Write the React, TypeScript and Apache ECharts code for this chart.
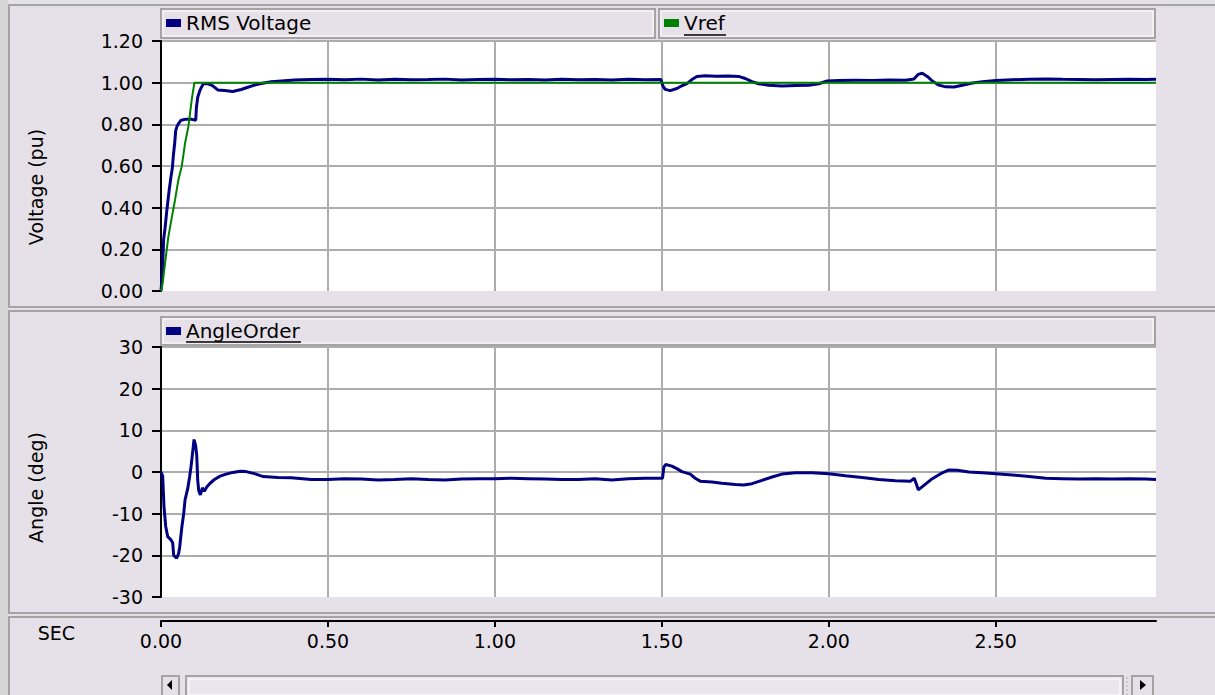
import React, { useEffect, useRef } from "react";
import * as echarts from "echarts";

// ---- data ----
const timeMin = 0;
const timeMax = 2.98;
const timeInterval = 0.5;
const voltageRange = [0, 1.2];
const voltageInterval = 0.2;
const angleRange = [-30, 30];
const angleInterval = 10;

const rmsVoltage: [number, number][] = [
  [0, 0.0], [0.004, 0.08], [0.008, 0.25], [0.012, 0.3], [0.017, 0.38], [0.022, 0.45],
  [0.025, 0.49], [0.03, 0.55], [0.034, 0.59], [0.037, 0.65], [0.041, 0.71], [0.044, 0.77],
  [0.048, 0.79], [0.053, 0.805], [0.06, 0.82], [0.075, 0.825], [0.09, 0.825], [0.104, 0.82],
  [0.106, 0.88], [0.11, 0.93], [0.116, 0.96], [0.12, 0.975], [0.127, 0.995], [0.14, 0.995],
  [0.155, 0.985], [0.17, 0.965], [0.19, 0.962], [0.215, 0.958], [0.24, 0.967], [0.26, 0.978],
  [0.28, 0.988], [0.3, 0.996], [0.33, 1.004], [0.36, 1.008], [0.4, 1.013], [0.45, 1.015],
  [0.5, 1.016], [0.55, 1.014], [0.6, 1.017], [0.65, 1.013], [0.7, 1.016], [0.75, 1.014],
  [0.8, 1.015], [0.85, 1.017], [0.9, 1.013], [0.95, 1.015], [1.0, 1.016], [1.05, 1.014],
  [1.1, 1.015], [1.15, 1.013], [1.2, 1.016], [1.25, 1.014], [1.3, 1.015], [1.35, 1.013],
  [1.4, 1.016], [1.45, 1.014], [1.497, 1.015], [1.503, 0.985], [1.51, 0.968], [1.525, 0.962],
  [1.545, 0.972], [1.56, 0.985], [1.575, 0.995], [1.59, 1.015], [1.605, 1.03], [1.63, 1.033],
  [1.66, 1.031], [1.7, 1.032], [1.73, 1.03], [1.75, 1.02], [1.77, 1.005], [1.79, 0.995],
  [1.82, 0.988], [1.86, 0.984], [1.9, 0.986], [1.94, 0.988], [1.97, 0.995], [1.995, 1.008],
  [2.03, 1.01], [2.08, 1.012], [2.13, 1.011], [2.18, 1.013], [2.23, 1.012], [2.255, 1.018],
  [2.268, 1.04], [2.28, 1.045], [2.295, 1.03], [2.31, 1.008], [2.33, 0.988], [2.35, 0.98],
  [2.375, 0.979], [2.4, 0.988], [2.43, 0.998], [2.46, 1.004], [2.5, 1.01], [2.55, 1.014],
  [2.6, 1.016], [2.65, 1.018], [2.7, 1.016], [2.75, 1.015], [2.8, 1.014], [2.85, 1.015],
  [2.9, 1.016], [2.95, 1.015], [2.98, 1.016],
];

const vref: [number, number][] = [
  [0, 0.0], [0.005, 0.037], [0.012, 0.133], [0.022, 0.26], [0.032, 0.35], [0.042, 0.437],
  [0.052, 0.533], [0.062, 0.597], [0.072, 0.709], [0.082, 0.789], [0.092, 0.917],
  [0.1, 1.0], [2.98, 1.0],
];

const angleOrder: [number, number][] = [
  [0, 0], [0.005, -1], [0.009, -8.3], [0.014, -13], [0.02, -15.5], [0.03, -16.3], [0.035, -17],
  [0.038, -20], [0.047, -20.7], [0.053, -19.5], [0.056, -18], [0.062, -13.5], [0.068, -10],
  [0.072, -6.7], [0.08, -4], [0.086, -1], [0.09, 1.3], [0.095, 4.9], [0.099, 7.8], [0.104, 6.2],
  [0.107, 4], [0.11, -2], [0.113, -4.5], [0.118, -5.5], [0.124, -3.8], [0.13, -4.6],
  [0.137, -3.6], [0.147, -2.7], [0.16, -1.8], [0.177, -1.0], [0.195, -0.5], [0.215, -0.1],
  [0.237, 0.2], [0.255, 0.1], [0.28, -0.4], [0.306, -1.1], [0.35, -1.3], [0.39, -1.4],
  [0.45, -1.8], [0.5, -1.8], [0.55, -1.6], [0.6, -1.7], [0.65, -1.9], [0.7, -1.8], [0.75, -1.6],
  [0.8, -1.8], [0.85, -1.9], [0.9, -1.7], [0.95, -1.6], [1.0, -1.6], [1.05, -1.5], [1.1, -1.6],
  [1.15, -1.7], [1.2, -1.8], [1.25, -1.8], [1.3, -1.6], [1.35, -1.9], [1.4, -1.6], [1.45, -1.5],
  [1.502, -1.5], [1.506, 1.2], [1.512, 1.8], [1.53, 1.4], [1.545, 0.8], [1.56, 0.1],
  [1.585, -0.5], [1.6, -1.5], [1.615, -2.2], [1.65, -2.4], [1.68, -2.7], [1.72, -3.0],
  [1.745, -3.1], [1.77, -2.8], [1.8, -2.0], [1.83, -1.2], [1.86, -0.5], [1.9, -0.2],
  [1.95, -0.2], [2.0, -0.4], [2.05, -0.9], [2.1, -1.3], [2.15, -1.8], [2.2, -2.1],
  [2.245, -2.2], [2.256, -1.5], [2.262, -2.8], [2.268, -4.3], [2.285, -3.2], [2.31, -1.6],
  [2.335, -0.4], [2.36, 0.5], [2.385, 0.4], [2.42, 0.0], [2.46, -0.2], [2.5, -0.4],
  [2.55, -0.7], [2.6, -1.1], [2.65, -1.5], [2.7, -1.6], [2.75, -1.7], [2.8, -1.6],
  [2.85, -1.7], [2.9, -1.6], [2.95, -1.7], [2.98, -1.8],
];

// ---- styles ----
const FONT = "'DejaVu Sans', sans-serif";
const BG = "#E6E0E8";
const FRAME = "#A4A4A4";
const GRIDC = "#ADADAD";
const NAVY = "#000080";
const GREEN = "#008000";
const NONE = "rgba(0,0,0,0)";

const xSplitColors = [NONE, GRIDC, GRIDC, GRIDC, GRIDC, GRIDC, NONE];
const ySplitColors = [NONE, GRIDC, GRIDC, GRIDC, GRIDC, GRIDC, GRIDC];

function plotX(gridIndex: number) {
  return {
    gridIndex,
    type: "value",
    min: timeMin,
    max: timeMax,
    interval: timeInterval,
    axisLine: { show: false },
    axisTick: { show: false },
    axisLabel: { show: false },
    splitLine: { show: true, lineStyle: { color: xSplitColors, width: 2 } },
  };
}

function plotY(gridIndex: number, range: number[], interval: number, name: string, fmt: (v: number) => string, shift: number) {
  return {
    gridIndex,
    type: "value",
    min: range[0],
    max: range[1],
    interval,
    name,
    nameLocation: "middle",
    nameGap: 116,
    nameRotate: 90,
    nameTextStyle: { fontFamily: FONT, fontSize: 19, color: "#000", padding: [0, shift, 0, 0] },
    axisLine: { show: true, onZero: false, lineStyle: { color: "#000", width: 2 } },
    axisTick: { show: true, length: 9, lineStyle: { color: "#000", width: 2 } },
    axisLabel: { show: true, margin: 18, fontFamily: FONT, fontSize: 19, color: "#000", formatter: fmt },
    splitLine: { show: true, lineStyle: { color: ySplitColors, width: 2 } },
  };
}

function legendAt(name: string, left: number, top: number) {
  return {
    data: [name],
    left,
    top,
    padding: 0,
    orient: "horizontal",
    icon: "rect",
    itemWidth: 15,
    itemHeight: 8,
    selectedMode: false,
    textStyle: { fontFamily: FONT, fontSize: 20, color: "#000", lineHeight: 20 },
  };
}

function box(x: number, y: number, w: number, h: number) {
  return [
    { type: "rect", z: -5, shape: { x, y, width: w, height: h }, style: { fill: BG, stroke: FRAME, lineWidth: 2 } },
    { type: "rect", z: -4, shape: { x: x + 2, y: y + 2, width: w - 4, height: h - 4 }, style: { fill: NONE, stroke: "#FFFFFF", lineWidth: 1 } },
  ];
}

const graphics: any[] = [
  // outer left strip and panels
  { type: "rect", z: -20, shape: { x: 0, y: 0, width: 8, height: 695 }, style: { fill: "#D6D6D6" } },
  { type: "rect", z: -20, shape: { x: 8, y: 0, width: 1207, height: 5 }, style: { fill: "#E4E2E6" } },
  { type: "rect", z: -15, shape: { x: 9, y: 5, width: 1215, height: 302 }, style: { fill: BG, stroke: FRAME, lineWidth: 2 } },
  { type: "rect", z: -15, shape: { x: 9, y: 311, width: 1215, height: 302 }, style: { fill: BG, stroke: FRAME, lineWidth: 2 } },
  { type: "rect", z: -15, shape: { x: 9, y: 617, width: 1215, height: 90 }, style: { fill: BG, stroke: FRAME, lineWidth: 2 } },
  // legend boxes
  ...box(161, 9, 494, 29),
  ...box(659, 9, 496, 29),
  ...box(161, 317, 994, 28),
  // underlines of linked legend names
  { type: "line", z: 10, shape: { x1: 684, y1: 35, x2: 726, y2: 35 }, style: { stroke: "#000", lineWidth: 1.5 } },
  { type: "line", z: 10, shape: { x1: 186, y1: 342, x2: 301, y2: 342 }, style: { stroke: "#000", lineWidth: 1.5 } },
  // scrollbar
  { type: "rect", shape: { x: 162, y: 676, width: 17, height: 20 }, style: { fill: BG, stroke: FRAME, lineWidth: 2 } },
  { type: "polygon", shape: { points: [[167, 685], [172, 680], [172, 690]] }, style: { fill: "#000" } },
  { type: "rect", shape: { x: 186, y: 676, width: 937, height: 20 }, style: { fill: "#E9E5EC", stroke: FRAME, lineWidth: 2 } },
  { type: "rect", shape: { x: 189, y: 679, width: 931, height: 16 }, style: { fill: NONE, stroke: "#FFFFFF", lineWidth: 1 } },
  { type: "line", shape: { x1: 1127, y1: 677, x2: 1127, y2: 695 }, style: { stroke: "#B0B0B0", lineWidth: 1, lineDash: [2, 2] } },
  { type: "rect", shape: { x: 1132, y: 676, width: 21, height: 20 }, style: { fill: BG, stroke: FRAME, lineWidth: 2 } },
  { type: "polygon", shape: { points: [[1140, 680], [1146, 685], [1140, 690]] }, style: { fill: "#000" } },
];

const option: any = {
  animation: false,
  backgroundColor: BG,
  textStyle: { fontFamily: FONT },
  grid: [
    { left: 161, top: 41, width: 995, height: 250, show: true, backgroundColor: "#FFFFFF", borderWidth: 0 },
    { left: 161, top: 347, width: 995, height: 250, show: true, backgroundColor: "#FFFFFF", borderWidth: 0 },
    { left: 161, top: 620, width: 995, height: 1, show: false },
  ],
  legend: [legendAt("RMS Voltage", 166, 13), legendAt("Vref", 664, 13), legendAt("AngleOrder", 166, 321)],
  xAxis: [
    plotX(0),
    plotX(1),
    {
      gridIndex: 2,
      type: "value",
      min: timeMin,
      max: timeMax,
      interval: timeInterval,
      name: "SEC",
      nameLocation: "start",
      nameGap: 86,
      nameTextStyle: { fontFamily: FONT, fontSize: 19, color: "#000", verticalAlign: "top", lineHeight: 24, padding: [0, 0, 0, 0] },
      axisLine: { show: true, lineStyle: { color: "#000", width: 2 } },
      axisTick: { show: true, length: 6, lineStyle: { color: "#000", width: 2 } },
      axisLabel: {
        show: true,
        margin: 10,
        fontFamily: FONT,
        fontSize: 19,
        color: "#000",
        showMaxLabel: false,
        formatter: (v: number) => v.toFixed(2),
      },
      splitLine: { show: false },
    },
  ],
  yAxis: [
    plotY(0, voltageRange, voltageInterval, "Voltage (pu)", (v: number) => v.toFixed(2), 42),
    plotY(1, angleRange, angleInterval, "Angle (deg)", (v: number) => String(Math.round(v)), 31),
    { gridIndex: 2, type: "value", show: false, min: 0, max: 1 },
  ],
  series: [
    {
      name: "RMS Voltage",
      type: "line",
      xAxisIndex: 0,
      yAxisIndex: 0,
      data: rmsVoltage,
      showSymbol: false,
      color: NAVY,
      lineStyle: { color: NAVY, width: 3 },
      z: 3,
    },
    {
      name: "Vref",
      type: "line",
      xAxisIndex: 0,
      yAxisIndex: 0,
      data: vref,
      showSymbol: false,
      color: GREEN,
      lineStyle: { color: GREEN, width: 2 },
      z: 4,
    },
    {
      name: "AngleOrder",
      type: "line",
      xAxisIndex: 1,
      yAxisIndex: 1,
      data: angleOrder,
      showSymbol: false,
      color: NAVY,
      lineStyle: { color: NAVY, width: 3 },
      z: 3,
    },
  ],
  graphic: { elements: graphics },
};

export default function App() {
  const ref = useRef<HTMLDivElement>(null);
  useEffect(() => {
    const chart = echarts.init(ref.current!, null, { renderer: "svg" });
    chart.setOption(option);
    return () => chart.dispose();
  }, []);
  return (
    <div
      ref={ref}
      style={{ position: "fixed", left: 0, top: 0, width: 1215, height: 695 }}
    />
  );
}
